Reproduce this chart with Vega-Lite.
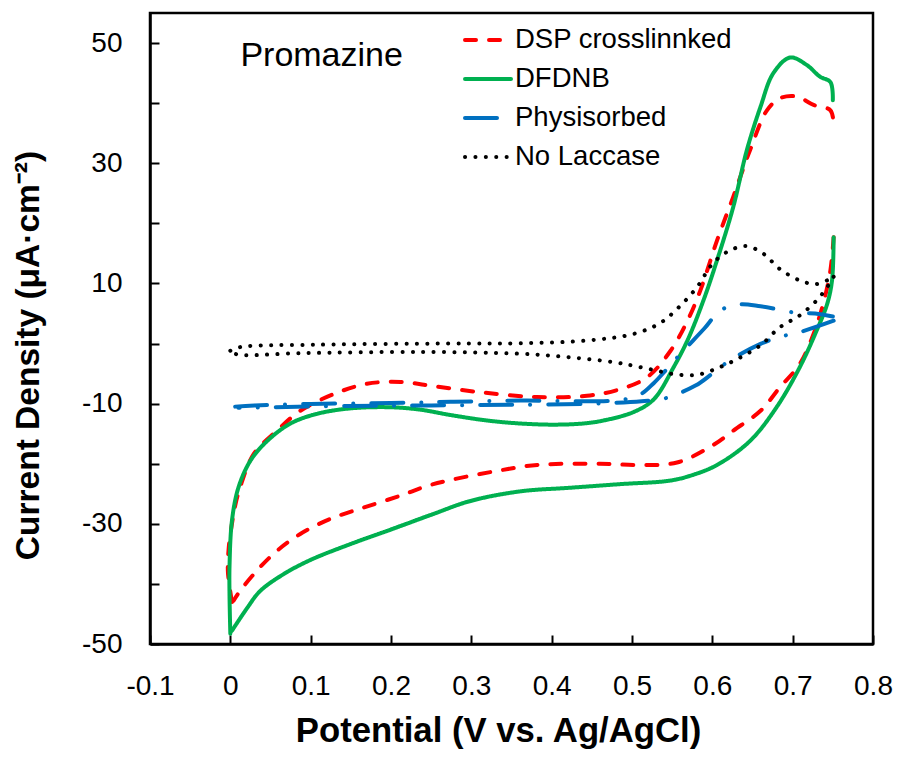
{
  "$schema": "https://vega.github.io/schema/vega-lite/v6.json",
  "width": 723,
  "height": 631,
  "autosize": {"type": "none"},
  "padding": {"left": 150, "top": 13, "right": 26, "bottom": 113},
  "background": "white",
  "config": {
    "font": "Liberation Sans",
    "view": {"stroke": "black", "strokeWidth": 2.5},
    "axis": {
      "grid": false,
      "domainColor": "black",
      "domainWidth": 2.5,
      "tickColor": "black",
      "tickWidth": 2,
      "tickSize": -9,
      "labelFont": "Liberation Sans",
      "labelFontSize": 28,
      "labelColor": "black",
      "labelFlush": false,
      "labelOverlap": false,
      "titleFont": "Liberation Sans",
      "titleFontSize": 34.7,
      "titleFontWeight": "bold",
      "titleColor": "black"
    },
    "legend": {
      "title": null,
      "orient": "none",
      "legendX": 313,
      "legendY": 2,
      "padding": 0,
      "symbolType": "stroke",
      "symbolSize": 2116,
      "symbolStrokeWidth": 4,
      "labelFontSize": 27.5,
      "labelFont": "Liberation Sans",
      "labelColor": "black",
      "labelOffset": 2,
      "rowPadding": 0,
      "labelLimit": 400
    }
  },
  "datasets": {
    "cv": [
      {"series": "DSP crosslinnked", "branch": "f", "idx": 0, "potential": 0.002, "current": -43},
      {"series": "DSP crosslinnked", "branch": "f", "idx": 1, "potential": -0.003, "current": -38},
      {"series": "DSP crosslinnked", "branch": "f", "idx": 2, "potential": -0.002, "current": -34},
      {"series": "DSP crosslinnked", "branch": "f", "idx": 3, "potential": 0.002, "current": -30},
      {"series": "DSP crosslinnked", "branch": "f", "idx": 4, "potential": 0.006, "current": -27},
      {"series": "DSP crosslinnked", "branch": "f", "idx": 5, "potential": 0.012, "current": -24},
      {"series": "DSP crosslinnked", "branch": "f", "idx": 6, "potential": 0.029, "current": -18.4},
      {"series": "DSP crosslinnked", "branch": "f", "idx": 7, "potential": 0.058, "current": -14.5},
      {"series": "DSP crosslinnked", "branch": "f", "idx": 8, "potential": 0.087, "current": -11.2},
      {"series": "DSP crosslinnked", "branch": "f", "idx": 9, "potential": 0.129, "current": -8.4},
      {"series": "DSP crosslinnked", "branch": "f", "idx": 10, "potential": 0.17, "current": -6.7},
      {"series": "DSP crosslinnked", "branch": "f", "idx": 11, "potential": 0.212, "current": -6.4},
      {"series": "DSP crosslinnked", "branch": "f", "idx": 12, "potential": 0.253, "current": -7.1},
      {"series": "DSP crosslinnked", "branch": "f", "idx": 13, "potential": 0.311, "current": -8.1},
      {"series": "DSP crosslinnked", "branch": "f", "idx": 14, "potential": 0.382, "current": -8.9},
      {"series": "DSP crosslinnked", "branch": "f", "idx": 15, "potential": 0.444, "current": -8.7},
      {"series": "DSP crosslinnked", "branch": "f", "idx": 16, "potential": 0.485, "current": -7.6},
      {"series": "DSP crosslinnked", "branch": "f", "idx": 17, "potential": 0.519, "current": -5.6},
      {"series": "DSP crosslinnked", "branch": "f", "idx": 18, "potential": 0.548, "current": -1.2},
      {"series": "DSP crosslinnked", "branch": "f", "idx": 19, "potential": 0.568, "current": 3.5},
      {"series": "DSP crosslinnked", "branch": "f", "idx": 20, "potential": 0.585, "current": 8.8},
      {"series": "DSP crosslinnked", "branch": "f", "idx": 21, "potential": 0.606, "current": 17.2},
      {"series": "DSP crosslinnked", "branch": "f", "idx": 22, "potential": 0.626, "current": 24.4},
      {"series": "DSP crosslinnked", "branch": "f", "idx": 23, "potential": 0.647, "current": 32.2},
      {"series": "DSP crosslinnked", "branch": "f", "idx": 24, "potential": 0.668, "current": 38.8},
      {"series": "DSP crosslinnked", "branch": "f", "idx": 25, "potential": 0.684, "current": 40.8},
      {"series": "DSP crosslinnked", "branch": "f", "idx": 26, "potential": 0.705, "current": 41.1},
      {"series": "DSP crosslinnked", "branch": "f", "idx": 27, "potential": 0.726, "current": 39.7},
      {"series": "DSP crosslinnked", "branch": "f", "idx": 28, "potential": 0.747, "current": 38.8},
      {"series": "DSP crosslinnked", "branch": "f", "idx": 29, "potential": 0.751, "current": 36.3},
      {"series": "DSP crosslinnked", "branch": "r", "idx": 30, "potential": 0.751, "current": 17.7},
      {"series": "DSP crosslinnked", "branch": "r", "idx": 31, "potential": 0.747, "current": 12.2},
      {"series": "DSP crosslinnked", "branch": "r", "idx": 32, "potential": 0.738, "current": 6.6},
      {"series": "DSP crosslinnked", "branch": "r", "idx": 33, "potential": 0.726, "current": 1.6},
      {"series": "DSP crosslinnked", "branch": "r", "idx": 34, "potential": 0.709, "current": -3.4},
      {"series": "DSP crosslinnked", "branch": "r", "idx": 35, "potential": 0.684, "current": -7.3},
      {"series": "DSP crosslinnked", "branch": "r", "idx": 36, "potential": 0.66, "current": -11.2},
      {"series": "DSP crosslinnked", "branch": "r", "idx": 37, "potential": 0.626, "current": -14.5},
      {"series": "DSP crosslinnked", "branch": "r", "idx": 38, "potential": 0.601, "current": -16.9},
      {"series": "DSP crosslinnked", "branch": "r", "idx": 39, "potential": 0.556, "current": -19.8},
      {"series": "DSP crosslinnked", "branch": "r", "idx": 40, "potential": 0.506, "current": -20.2},
      {"series": "DSP crosslinnked", "branch": "r", "idx": 41, "potential": 0.46, "current": -20},
      {"series": "DSP crosslinnked", "branch": "r", "idx": 42, "potential": 0.382, "current": -20.2},
      {"series": "DSP crosslinnked", "branch": "r", "idx": 43, "potential": 0.332, "current": -21.2},
      {"series": "DSP crosslinnked", "branch": "r", "idx": 44, "potential": 0.278, "current": -22.6},
      {"series": "DSP crosslinnked", "branch": "r", "idx": 45, "potential": 0.245, "current": -23.7},
      {"series": "DSP crosslinnked", "branch": "r", "idx": 46, "potential": 0.212, "current": -25.3},
      {"series": "DSP crosslinnked", "branch": "r", "idx": 47, "potential": 0.166, "current": -27.3},
      {"series": "DSP crosslinnked", "branch": "r", "idx": 48, "potential": 0.124, "current": -29.2},
      {"series": "DSP crosslinnked", "branch": "r", "idx": 49, "potential": 0.087, "current": -31.7},
      {"series": "DSP crosslinnked", "branch": "r", "idx": 50, "potential": 0.058, "current": -34.5},
      {"series": "DSP crosslinnked", "branch": "r", "idx": 51, "potential": 0.033, "current": -37.8},
      {"series": "DSP crosslinnked", "branch": "r", "idx": 52, "potential": 0.012, "current": -41.2},
      {"series": "DSP crosslinnked", "branch": "r", "idx": 53, "potential": 0.004, "current": -42.8},

      {"series": "DFDNB", "branch": "f", "idx": 0, "potential": 0.0, "current": -48.3},
      {"series": "DFDNB", "branch": "f", "idx": 1, "potential": -0.001, "current": -42},
      {"series": "DFDNB", "branch": "f", "idx": 2, "potential": -0.001, "current": -37},
      {"series": "DFDNB", "branch": "f", "idx": 3, "potential": 0.002, "current": -29.5},
      {"series": "DFDNB", "branch": "f", "idx": 4, "potential": 0.01, "current": -24},
      {"series": "DFDNB", "branch": "f", "idx": 5, "potential": 0.025, "current": -19.5},
      {"series": "DFDNB", "branch": "f", "idx": 6, "potential": 0.046, "current": -16.2},
      {"series": "DFDNB", "branch": "f", "idx": 7, "potential": 0.075, "current": -13.3},
      {"series": "DFDNB", "branch": "f", "idx": 8, "potential": 0.108, "current": -11.7},
      {"series": "DFDNB", "branch": "f", "idx": 9, "potential": 0.149, "current": -10.8},
      {"series": "DFDNB", "branch": "f", "idx": 10, "potential": 0.199, "current": -10.6},
      {"series": "DFDNB", "branch": "f", "idx": 11, "potential": 0.236, "current": -11.0},
      {"series": "DFDNB", "branch": "f", "idx": 12, "potential": 0.274, "current": -11.9},
      {"series": "DFDNB", "branch": "f", "idx": 13, "potential": 0.319, "current": -12.8},
      {"series": "DFDNB", "branch": "f", "idx": 14, "potential": 0.36, "current": -13.3},
      {"series": "DFDNB", "branch": "f", "idx": 15, "potential": 0.402, "current": -13.5},
      {"series": "DFDNB", "branch": "f", "idx": 16, "potential": 0.44, "current": -13.3},
      {"series": "DFDNB", "branch": "f", "idx": 17, "potential": 0.465, "current": -12.8},
      {"series": "DFDNB", "branch": "f", "idx": 18, "potential": 0.502, "current": -11.4},
      {"series": "DFDNB", "branch": "f", "idx": 19, "potential": 0.527, "current": -9.3},
      {"series": "DFDNB", "branch": "f", "idx": 20, "potential": 0.552, "current": -3.9},
      {"series": "DFDNB", "branch": "f", "idx": 21, "potential": 0.57, "current": 0.8},
      {"series": "DFDNB", "branch": "f", "idx": 22, "potential": 0.589, "current": 7.2},
      {"series": "DFDNB", "branch": "f", "idx": 23, "potential": 0.605, "current": 13.5},
      {"series": "DFDNB", "branch": "f", "idx": 24, "potential": 0.626, "current": 22.7},
      {"series": "DFDNB", "branch": "f", "idx": 25, "potential": 0.643, "current": 32.2},
      {"series": "DFDNB", "branch": "f", "idx": 26, "potential": 0.66, "current": 39.4},
      {"series": "DFDNB", "branch": "f", "idx": 27, "potential": 0.676, "current": 45},
      {"series": "DFDNB", "branch": "f", "idx": 28, "potential": 0.697, "current": 47.6},
      {"series": "DFDNB", "branch": "f", "idx": 29, "potential": 0.718, "current": 46.3},
      {"series": "DFDNB", "branch": "f", "idx": 30, "potential": 0.734, "current": 44.4},
      {"series": "DFDNB", "branch": "f", "idx": 31, "potential": 0.747, "current": 43.5},
      {"series": "DFDNB", "branch": "f", "idx": 32, "potential": 0.75, "current": 40.5},
      {"series": "DFDNB", "branch": "r", "idx": 33, "potential": 0.751, "current": 17.7},
      {"series": "DFDNB", "branch": "r", "idx": 34, "potential": 0.749, "current": 10.5},
      {"series": "DFDNB", "branch": "r", "idx": 35, "potential": 0.743, "current": 6.6},
      {"series": "DFDNB", "branch": "r", "idx": 36, "potential": 0.73, "current": 2.2},
      {"series": "DFDNB", "branch": "r", "idx": 37, "potential": 0.709, "current": -3.9},
      {"series": "DFDNB", "branch": "r", "idx": 38, "potential": 0.68, "current": -10.6},
      {"series": "DFDNB", "branch": "r", "idx": 39, "potential": 0.647, "current": -16.2},
      {"series": "DFDNB", "branch": "r", "idx": 40, "potential": 0.606, "current": -20.2},
      {"series": "DFDNB", "branch": "r", "idx": 41, "potential": 0.575, "current": -21.9},
      {"series": "DFDNB", "branch": "r", "idx": 42, "potential": 0.548, "current": -22.8},
      {"series": "DFDNB", "branch": "r", "idx": 43, "potential": 0.485, "current": -23.4},
      {"series": "DFDNB", "branch": "r", "idx": 44, "potential": 0.423, "current": -24},
      {"series": "DFDNB", "branch": "r", "idx": 45, "potential": 0.361, "current": -24.6},
      {"series": "DFDNB", "branch": "r", "idx": 46, "potential": 0.299, "current": -26.2},
      {"series": "DFDNB", "branch": "r", "idx": 47, "potential": 0.25, "current": -28.5},
      {"series": "DFDNB", "branch": "r", "idx": 48, "potential": 0.199, "current": -31.0},
      {"series": "DFDNB", "branch": "r", "idx": 49, "potential": 0.149, "current": -33.4},
      {"series": "DFDNB", "branch": "r", "idx": 50, "potential": 0.1, "current": -36.0},
      {"series": "DFDNB", "branch": "r", "idx": 51, "potential": 0.066, "current": -38.4},
      {"series": "DFDNB", "branch": "r", "idx": 52, "potential": 0.037, "current": -41.2},
      {"series": "DFDNB", "branch": "r", "idx": 53, "potential": 0.021, "current": -44},
      {"series": "DFDNB", "branch": "r", "idx": 54, "potential": 0.002, "current": -47.8},

      {"series": "Physisorbed", "branch": "f", "idx": 0, "potential": 0.006, "current": -10.5},
      {"series": "Physisorbed", "branch": "f", "idx": 1, "potential": 0.03, "current": -10.3},
      {"series": "Physisorbed", "branch": "f", "idx": 2, "potential": 0.1, "current": -10.05},
      {"series": "Physisorbed", "branch": "f", "idx": 3, "potential": 0.2, "current": -9.9},
      {"series": "Physisorbed", "branch": "f", "idx": 4, "potential": 0.274, "current": -9.7},
      {"series": "Physisorbed", "branch": "f", "idx": 5, "potential": 0.361, "current": -9.5},
      {"series": "Physisorbed", "branch": "f", "idx": 6, "potential": 0.485, "current": -9.4},
      {"series": "Physisorbed", "branch": "f", "idx": 7, "potential": 0.51, "current": -8.5},
      {"series": "Physisorbed", "branch": "f", "idx": 8, "potential": 0.527, "current": -6.6},
      {"series": "Physisorbed", "branch": "f", "idx": 9, "potential": 0.545, "current": -4},
      {"series": "Physisorbed", "branch": "f", "idx": 10, "potential": 0.564, "current": -1.2},
      {"series": "Physisorbed", "branch": "f", "idx": 11, "potential": 0.59, "current": 2.5},
      {"series": "Physisorbed", "branch": "f", "idx": 12, "potential": 0.61, "current": 5.5},
      {"series": "Physisorbed", "branch": "f", "idx": 13, "potential": 0.633, "current": 6.5},
      {"series": "Physisorbed", "branch": "f", "idx": 14, "potential": 0.66, "current": 6.2},
      {"series": "Physisorbed", "branch": "f", "idx": 15, "potential": 0.705, "current": 5.1},
      {"series": "Physisorbed", "branch": "f", "idx": 16, "potential": 0.728, "current": 5.0},
      {"series": "Physisorbed", "branch": "f", "idx": 17, "potential": 0.75, "current": 4.5},
      {"series": "Physisorbed", "branch": "r", "idx": 18, "potential": 0.751, "current": 3.8},
      {"series": "Physisorbed", "branch": "r", "idx": 19, "potential": 0.709, "current": 1.9},
      {"series": "Physisorbed", "branch": "r", "idx": 20, "potential": 0.684, "current": 1.1},
      {"series": "Physisorbed", "branch": "r", "idx": 21, "potential": 0.66, "current": -0.05},
      {"series": "Physisorbed", "branch": "r", "idx": 22, "potential": 0.622, "current": -2.8},
      {"series": "Physisorbed", "branch": "r", "idx": 23, "potential": 0.6, "current": -5},
      {"series": "Physisorbed", "branch": "r", "idx": 24, "potential": 0.579, "current": -7},
      {"series": "Physisorbed", "branch": "r", "idx": 25, "potential": 0.539, "current": -9.2},
      {"series": "Physisorbed", "branch": "r", "idx": 26, "potential": 0.512, "current": -9.6},
      {"series": "Physisorbed", "branch": "r", "idx": 27, "potential": 0.45, "current": -10},
      {"series": "Physisorbed", "branch": "r", "idx": 28, "potential": 0.35, "current": -10.2},
      {"series": "Physisorbed", "branch": "r", "idx": 29, "potential": 0.25, "current": -10.3},
      {"series": "Physisorbed", "branch": "r", "idx": 30, "potential": 0.15, "current": -10.4},
      {"series": "Physisorbed", "branch": "r", "idx": 31, "potential": 0.05, "current": -10.6},
      {"series": "Physisorbed", "branch": "r", "idx": 32, "potential": 0.01, "current": -10.7},

      {"series": "No Laccase", "branch": "f", "idx": 0, "potential": 0.0, "current": -1.2},
      {"series": "No Laccase", "branch": "f", "idx": 1, "potential": 0.012, "current": -0.6},
      {"series": "No Laccase", "branch": "f", "idx": 2, "potential": 0.108, "current": -0.2},
      {"series": "No Laccase", "branch": "f", "idx": 3, "potential": 0.274, "current": 0},
      {"series": "No Laccase", "branch": "f", "idx": 4, "potential": 0.361, "current": 0.05},
      {"series": "No Laccase", "branch": "f", "idx": 5, "potential": 0.444, "current": 0.5},
      {"series": "No Laccase", "branch": "f", "idx": 6, "potential": 0.502, "current": 1.6},
      {"series": "No Laccase", "branch": "f", "idx": 7, "potential": 0.535, "current": 3.4},
      {"series": "No Laccase", "branch": "f", "idx": 8, "potential": 0.558, "current": 6.0},
      {"series": "No Laccase", "branch": "f", "idx": 9, "potential": 0.581, "current": 9.4},
      {"series": "No Laccase", "branch": "f", "idx": 10, "potential": 0.601, "current": 13.4},
      {"series": "No Laccase", "branch": "f", "idx": 11, "potential": 0.622, "current": 15.5},
      {"series": "No Laccase", "branch": "f", "idx": 12, "potential": 0.643, "current": 16.2},
      {"series": "No Laccase", "branch": "f", "idx": 13, "potential": 0.664, "current": 14.9},
      {"series": "No Laccase", "branch": "f", "idx": 14, "potential": 0.684, "current": 12.4},
      {"series": "No Laccase", "branch": "f", "idx": 15, "potential": 0.709, "current": 10.5},
      {"series": "No Laccase", "branch": "f", "idx": 16, "potential": 0.73, "current": 9.9},
      {"series": "No Laccase", "branch": "f", "idx": 17, "potential": 0.751, "current": 11.1},
      {"series": "No Laccase", "branch": "r", "idx": 18, "potential": 0.751, "current": 11.1},
      {"series": "No Laccase", "branch": "r", "idx": 19, "potential": 0.743, "current": 9.4},
      {"series": "No Laccase", "branch": "r", "idx": 20, "potential": 0.73, "current": 7.2},
      {"series": "No Laccase", "branch": "r", "idx": 21, "potential": 0.709, "current": 4.7},
      {"series": "No Laccase", "branch": "r", "idx": 22, "potential": 0.684, "current": 2.7},
      {"series": "No Laccase", "branch": "r", "idx": 23, "potential": 0.66, "current": -0.3},
      {"series": "No Laccase", "branch": "r", "idx": 24, "potential": 0.635, "current": -2.3},
      {"series": "No Laccase", "branch": "r", "idx": 25, "potential": 0.61, "current": -3.9},
      {"series": "No Laccase", "branch": "r", "idx": 26, "potential": 0.581, "current": -5.2},
      {"series": "No Laccase", "branch": "r", "idx": 27, "potential": 0.552, "current": -5.1},
      {"series": "No Laccase", "branch": "r", "idx": 28, "potential": 0.527, "current": -4.4},
      {"series": "No Laccase", "branch": "r", "idx": 29, "potential": 0.502, "current": -3.7},
      {"series": "No Laccase", "branch": "r", "idx": 30, "potential": 0.477, "current": -3.1},
      {"series": "No Laccase", "branch": "r", "idx": 31, "potential": 0.423, "current": -2.3},
      {"series": "No Laccase", "branch": "r", "idx": 32, "potential": 0.361, "current": -1.7},
      {"series": "No Laccase", "branch": "r", "idx": 33, "potential": 0.236, "current": -1.4},
      {"series": "No Laccase", "branch": "r", "idx": 34, "potential": 0.087, "current": -1.6},
      {"series": "No Laccase", "branch": "r", "idx": 35, "potential": 0.008, "current": -1.8},
      {"series": "No Laccase", "branch": "r", "idx": 36, "potential": 0.0, "current": -1.2}
    ],
    "annotations": [
      {"label": "Promazine", "potential": 0.0125, "current": 46.2}
    ]
  },
  "layer": [
    {
      "data": {"name": "cv"},
      "mark": {"type": "line", "strokeWidth": 4, "strokeCap": "round", "strokeJoin": "round", "interpolate": "catmull-rom", "clip": true},
      "encoding": {
        "x": {
          "field": "potential",
          "type": "quantitative",
          "scale": {"domain": [-0.1, 0.8], "nice": false, "zero": false},
          "axis": {
            "title": "Potential (V vs. Ag/AgCl)",
            "values": [-0.1, 0, 0.1, 0.2, 0.3, 0.4, 0.5, 0.6, 0.7, 0.8],
            "labelExpr": "datum.value === 0 ? '0' : (datum.value < 0 ? '-' : '') + format(abs(datum.value), '.1f')",
            "labelPadding": 37,
            "titlePadding": 14,
            "titleX": 348,
            "titleAlign": "center"
          }
        },
        "y": {
          "field": "current",
          "type": "quantitative",
          "scale": {"domain": [-50, 55], "nice": false, "zero": false},
          "axis": {
            "title": "Current Density (μA·cm⁻²)",
            "values": [-50, -40, -30, -20, -10, 0, 10, 20, 30, 40, 50],
            "labelExpr": "datum.value % 20 === 0 ? '' : (datum.value < 0 ? '-' : '') + abs(datum.value)",
            "labelPadding": 37,
            "titlePadding": 36,
            "titleFontSize": 33.5,
            "titleY": 342,
            "titleAlign": "center"
          }
        },
        "color": {
          "field": "series",
          "type": "nominal",
          "scale": {
            "domain": ["DSP crosslinnked", "DFDNB", "Physisorbed", "No Laccase"],
            "range": ["#FF0000", "#00B050", "#0070C0", "#000000"]
          },
          "legend": {
            "encode": {"symbols": {"update": {"strokeCap": {"value": "round"}}}}
          }
        },
        "strokeDash": {
          "field": "series",
          "type": "nominal",
          "scale": {
            "domain": ["DSP crosslinnked", "DFDNB", "Physisorbed", "No Laccase"],
            "range": [[11, 13], [1, 0], [32, 18, 0.1, 18], [0.1, 10.3]]
          },
          "legend": {
            "encode": {"symbols": {"update": {"strokeCap": {"value": "round"}}}}
          }
        },
        "detail": {"field": "branch", "type": "nominal"},
        "order": {"field": "idx", "type": "quantitative"}
      }
    },
    {
      "data": {"name": "annotations"},
      "mark": {"type": "text", "align": "left", "baseline": "alphabetic", "fontSize": 34, "font": "Liberation Sans", "color": "black"},
      "encoding": {
        "x": {"field": "potential", "type": "quantitative"},
        "y": {"field": "current", "type": "quantitative"},
        "text": {"field": "label"}
      }
    }
  ]
}
